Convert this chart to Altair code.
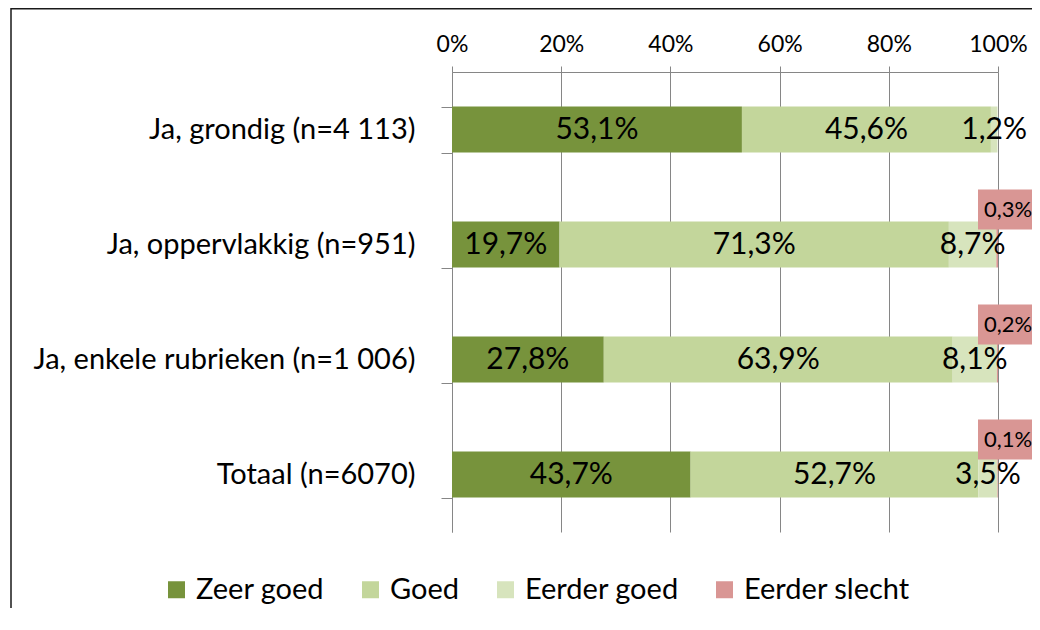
import altair as alt
import pandas as pd

categories = ["Ja, grondig (n=4 113)", "Ja, oppervlakkig (n=951)",
              "Ja, enkele rubrieken (n=1 006)", "Totaal (n=6070)"]
series = ["Zeer goed", "Goed", "Eerder goed", "Eerder slecht"]
zeer_goed = [53.1, 19.7, 27.8, 43.7]
goed = [45.6, 71.3, 63.9, 52.7]
eerder_goed = [1.2, 8.7, 8.1, 3.5]
eerder_slecht = [0.0, 0.3, 0.2, 0.1]
x_ticks = [0, 20, 40, 60, 80, 100]
colors = ["#77933C", "#C3D69B", "#D7E4BD", "#D99694"]

rows = []
for i, c in enumerate(categories):
    for j, (s, vals) in enumerate(zip(series, [zeer_goed, goed, eerder_goed, eerder_slecht])):
        v = vals[i]
        rows.append({"cat": c, "series": s, "value": v, "order": j,
                     "label": (f"{v:.1f}".replace(".", ",") + "%") if v > 0 else ""})
df = pd.DataFrame(rows)

FONT = "Lato"
PW, PH = 546, 460

xscale = alt.Scale(domain=[0, 100], nice=False)
yscale = alt.Scale(domain=categories, paddingInner=0.6, paddingOuter=0.3)

base = alt.Chart(df).transform_stack(
    stack="value", groupby=["cat"], as_=["x0", "x1"], sort=[alt.SortField("order")]
).transform_calculate(mid="(datum.x0 + datum.x1) / 2")

y_enc = alt.Y("cat:N", scale=yscale, sort=categories,
              axis=alt.Axis(title=None, tickBand="extent", tickSize=11, tickColor="#868686",
                            domainColor="#868686", labelFontSize=29, labelFont=FONT,
                            labelColor="#000000", labelPadding=26, grid=False, labelLimit=600))

bars = base.mark_bar().encode(
    x=alt.X("x0:Q", scale=xscale,
            axis=alt.Axis(orient="top", title=None, values=x_ticks,
                          labelExpr="datum.value + '%'", tickSize=6, tickColor="#868686",
                          domainColor="#868686", grid=True, gridColor="#868686",
                          labelFontSize=23, labelFont=FONT, labelColor="#000000",
                          labelPadding=10, labelFlush=False)),
    x2="x1:Q",
    y=y_enc,
    color=alt.Color("series:N", scale=alt.Scale(domain=series, range=colors),
                    legend=alt.Legend(title=None, orient="none", legendX=-290, legendY=503,
                                      direction="horizontal", symbolType="square",
                                      symbolSize=289, symbolStrokeWidth=0,
                                      labelFontSize=29, labelFont=FONT, labelColor="#000000",
                                      labelOffset=5, columnPadding=31, labelLimit=500)),
)

labels = base.transform_filter("datum.series != 'Eerder slecht'").mark_text(
    fontSize=30, font=FONT, color="#000000", align="center", baseline="middle"
).encode(x=alt.X("mid:Q", scale=xscale), y=alt.Y("cat:N", scale=yscale, sort=categories), text="label:N")

slecht = base.transform_filter("datum.series == 'Eerder slecht' && datum.value > 0")

boxes = slecht.mark_rect(color="#D99694", height=40, yOffset=-35, xOffset=-20, x2Offset=80).encode(
    x=alt.X("x1:Q", scale=xscale), x2="x1:Q",
    y=alt.Y("cat:N", scale=yscale, sort=categories))

box_text = slecht.mark_text(fontSize=22, font=FONT, color="#000000", align="left",
                            baseline="middle", dx=-14, dy=-35).encode(
    x=alt.X("x1:Q", scale=xscale), y=alt.Y("cat:N", scale=yscale, sort=categories), text="label:N")

frame = alt.Chart(pd.DataFrame({"f": [0]})).mark_rect(
    fill=None, stroke="#1a1a1a", strokeWidth=1.5).encode(
    x=alt.value(-441), x2=alt.value(800), y=alt.value(-63.25), y2=alt.value(800))

chart = alt.layer(frame, bars, labels, boxes, box_text).properties(
    width=PW, height=PH,
    autosize=alt.AutoSizeParams(type="none"),
    padding={"left": 444, "top": 64, "right": 34, "bottom": 76},
    background="#ffffff",
).configure_view(stroke=None)

chart.save("out.html", embed_options={"renderer": "svg", "actions": False})
